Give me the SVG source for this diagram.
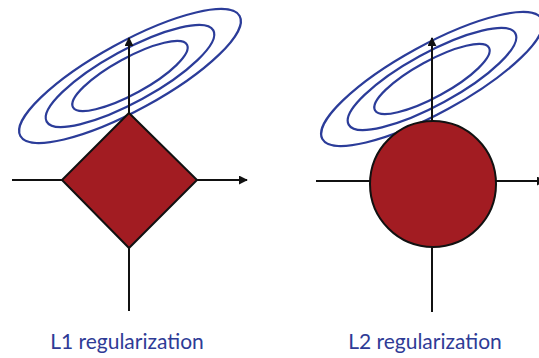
<svg xmlns="http://www.w3.org/2000/svg" width="539" height="358" viewBox="0 0 539 358">
<style>
.axis{stroke:#111;stroke-width:2;fill:none}
.shape{fill:#a21c22;stroke:#111;stroke-width:2}
.ell{fill:none;stroke:#2b3c99;stroke-width:2.2}
.lbl{font-family:Lato,"Open Sans","Liberation Sans",sans-serif;font-size:21px;fill:#2e3b96;text-anchor:middle}
</style>
<defs>
<marker id="ah" viewBox="0 0 10 10" refX="9" refY="5" markerWidth="9" markerHeight="9" markerUnits="userSpaceOnUse" orient="auto">
<path d="M0,0 L10,5 L0,10 z" fill="#111"/>
</marker>
</defs>
<g id="l1">
<g id="l1-contours" transform="translate(130,76) rotate(-28.7)">
<ellipse class="ell" cx="0" cy="0" rx="125" ry="34"/>
<ellipse class="ell" cx="0" cy="0" rx="95" ry="26"/>
<ellipse class="ell" cx="0" cy="0" rx="65" ry="18"/>
</g>
<g id="l1-connectors">
<line class="axis" x1="12" y1="180" x2="247" y2="180" marker-end="url(#ah)"/>
<line class="axis" x1="129" y1="311" x2="129" y2="38" marker-end="url(#ah)"/>
</g>
<g id="l1-diamond">
<polygon class="shape" points="129,113 197,180 129,248 62,180"/>
</g>
<text id="l1-label" class="lbl" x="127" y="349">L1 regularization</text>
</g>
<g id="l2">
<g id="l2-contours" transform="translate(432,79) rotate(-28.7)">
<ellipse class="ell" cx="0" cy="0" rx="125" ry="34"/>
<ellipse class="ell" cx="0" cy="0" rx="95" ry="26"/>
<ellipse class="ell" cx="0" cy="0" rx="65" ry="18"/>
</g>
<g id="l2-connectors">
<line class="axis" x1="316" y1="181" x2="545" y2="181" marker-end="url(#ah)"/>
<line class="axis" x1="432" y1="312" x2="432" y2="38" marker-end="url(#ah)"/>
</g>
<g id="l2-circle">
<circle class="shape" cx="433" cy="184" r="63"/>
</g>
<text id="l2-label" class="lbl" x="425" y="349">L2 regularization</text>
</g>
</svg>
